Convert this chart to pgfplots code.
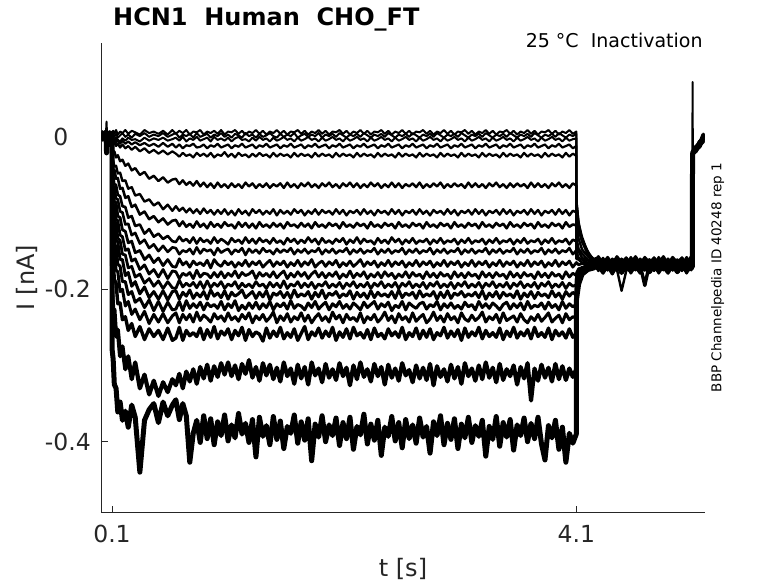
\documentclass[border=0pt]{standalone}
\usepackage{fontspec}
\setmainfont{DejaVu Sans}
\usepackage{pgfplots}
\usepackage{pgfplotstable}
\pgfplotsset{compat=1.18}
\definecolor{axgray}{RGB}{38,38,38}
\pgfplotstableread{
t a b c d e f g h i j k l m n o p q r s
8 3 1 -2 5 0 2 -1 4 1 -3 6 0 2 -2 3 1 -1 4 2
18 -1 4 2 -3 6 1 3 -2 5 2 0 7 -1 3 1 -2 5 0 -3
28 5 -2 3 1 -1 6 0 3 -2 4 2 -1 5 1 -3 6 2 -1 4
38 0 3 -1 7 2 -2 4 1 -3 5 0 3 -2 6 2 -1 3 5 0
48 4 -1 5 0 3 1 -3 6 2 -1 4 0 7 -2 3 1 -1 2 6
53 20 2 -1 4 1 5 0 3 -2 6 1 -1 3 0 5 -2 4 1 -21
58 -2 5 1 -1 4 0 6 -3 3 1 -2 5 0 4 -1 7 0 3 2
68 6 0 3 2 -2 4 1 -1 5 -3 3 2 -1 6 0 2 -2 5 -1
78 1 4 -2 5 0 3 -1 7 0 2 5 -3 4 1 -2 3 6 0 3
88 -3 2 6 0 4 -1 3 1 -2 5 0 4 2 -1 6 -2 3 1 5
98 4 -1 2 3 -2 6 0 4 1 -1 3 5 -2 2 0 4 1 -3 2
100 2 3 0 1 2 1 3 0 2 1 2 0 1 3 2 0 1 2 1
101 5 1 -4 -5 -8 -18 -30 -38 -49 -56 -66 -76 -86 -96 -111 -127 -152 -202 -279
110 8 3 -2 -7 -10 -22 -31 -45 -51 -65 -70 -88 -92 -111 -119 -145 -161 -226 -292
120 4 0 -5 -3 -7 -19 -39 -43 -62 -66 -85 -89 -109 -113 -139 -148 -187 -226 -325
135 9 4 -1 -8 -12 -27 -38 -55 -63 -81 -86 -108 -113 -136 -145 -175 -192 -262 -330
150 3 -1 -4 -4 -9 -24 -48 -54 -76 -82 -104 -110 -133 -138 -167 -177 -219 -253 -361
170 7 2 -6 -9 -14 -32 -47 -68 -78 -98 -106 -129 -136 -161 -170 -203 -218 -288 -348
190 5 5 -2 -5 -10 -30 -58 -67 -91 -99 -122 -131 -154 -161 -190 -200 -240 -275 -372
215 9 0 -5 -9 -15 -38 -57 -80 -92 -115 -124 -149 -155 -182 -190 -222 -236 -305 -360
240 4 3 -1 -6 -12 -35 -68 -78 -106 -114 -139 -147 -172 -178 -207 -216 -254 -288 -381
270 8 -1 -4 -10 -17 -44 -66 -92 -104 -129 -137 -163 -170 -196 -203 -233 -245 -318 -352
300 6 4 -3 -7 -13 -41 -77 -89 -117 -126 -152 -160 -184 -190 -217 -226 -262 -296 -368
340 3 1 -6 -11 -19 -50 -75 -102 -115 -140 -149 -174 -180 -206 -212 -240 -249 -330 -440
380 9 5 -1 -8 -15 -46 -85 -98 -127 -135 -161 -168 -192 -197 -224 -229 -266 -312 -372
420 5 0 -5 -12 -21 -55 -82 -108 -121 -146 -155 -180 -186 -211 -214 -245 -252 -338 -358
460 7 3 -2 -9 -17 -51 -90 -104 -131 -141 -165 -174 -196 -203 -228 -233 -262 -320 -350
500 4 1 -4 -13 -22 -58 -86 -112 -127 -150 -159 -184 -189 -213 -216 -243 -254 -340 -375
540 8 5 -1 -8 -18 -53 -95 -107 -134 -143 -169 -174 -199 -202 -229 -232 -266 -322 -348
580 3 0 -5 -13 -23 -60 -89 -115 -130 -151 -161 -186 -190 -214 -217 -244 -251 -335 -366
620 9 3 -3 -9 -19 -56 -97 -110 -137 -145 -170 -176 -198 -203 -227 -235 -267 -318 -352
650 4 5 -1 -14 -22 -55 -91 -109 -138 -146 -171 -177 -199 -202 -226 -231 -264 -326 -345
680 8 -1 -5 -10 -26 -62 -97 -117 -131 -154 -160 -186 -188 -213 -216 -244 -250 -311 -371
710 5 3 0 -15 -21 -57 -93 -111 -137 -149 -168 -179 -197 -204 -228 -233 -267 -330 -350
740 9 1 -6 -11 -25 -63 -99 -118 -134 -151 -164 -182 -192 -209 -215 -240 -254 -308 -366
770 3 4 -2 -12 -23 -59 -94 -114 -139 -147 -171 -178 -196 -201 -225 -233 -261 -321 -427
800 7 -1 -4 -9 -27 -64 -100 -119 -132 -154 -163 -186 -191 -212 -219 -243 -257 -305 -389
830 6 5 0 -14 -21 -58 -95 -111 -140 -145 -168 -175 -198 -205 -224 -230 -262 -324 -372
860 9 0 -5 -13 -25 -65 -101 -118 -133 -153 -165 -184 -190 -210 -217 -241 -251 -302 -401
890 3 2 -3 -10 -22 -60 -94 -114 -138 -147 -169 -179 -199 -203 -227 -234 -266 -317 -366
920 7 4 -1 -15 -26 -66 -100 -120 -135 -150 -162 -180 -189 -213 -218 -238 -253 -299 -396
950 5 -1 -6 -11 -21 -61 -96 -112 -140 -148 -172 -185 -198 -201 -223 -243 -263 -320 -370
980 8 3 0 -13 -27 -67 -102 -118 -132 -155 -161 -178 -192 -209 -220 -232 -249 -301 -404
1010 4 1 -4 -9 -23 -60 -96 -114 -139 -146 -167 -184 -196 -205 -225 -239 -265 -315 -374
1040 9 5 -2 -14 -25 -66 -101 -119 -134 -152 -170 -177 -190 -211 -216 -235 -255 -297 -392
1070 3 0 -5 -12 -20 -62 -95 -112 -137 -149 -163 -185 -199 -202 -227 -242 -260 -312 -365
1100 7 3 -1 -10 -26 -67 -102 -117 -141 -147 -168 -179 -193 -213 -219 -231 -252 -296 -399
1130 6 -1 -6 -15 -22 -61 -97 -115 -133 -154 -164 -183 -196 -204 -224 -240 -266 -314 -378
1160 9 4 -2 -11 -27 -66 -103 -120 -138 -148 -171 -176 -190 -209 -215 -236 -254 -300 -395
1190 4 2 0 -13 -21 -62 -95 -112 -135 -151 -165 -185 -199 -206 -228 -242 -261 -318 -363
1220 8 -1 -4 -9 -25 -67 -101 -118 -140 -146 -169 -178 -192 -201 -221 -233 -250 -298 -390
1250 3 5 -3 -14 -23 -60 -97 -113 -132 -155 -162 -182 -197 -211 -226 -239 -267 -311 -376
1280 7 1 -6 -12 -27 -65 -103 -119 -139 -147 -170 -180 -193 -207 -218 -231 -253 -293 -401
1310 5 3 -1 -10 -22 -61 -95 -114 -134 -152 -164 -176 -198 -203 -225 -244 -262 -316 -371
1340 9 -1 -5 -15 -26 -67 -100 -120 -140 -148 -168 -186 -190 -212 -217 -235 -256 -302 -420
1370 4 4 0 -11 -21 -62 -96 -112 -133 -153 -163 -178 -196 -204 -226 -240 -259 -320 -368
1400 8 0 -4 -13 -25 -66 -102 -118 -138 -146 -171 -183 -193 -210 -219 -233 -268 -297 -393
1430 3 2 -2 -9 -23 -61 -97 -115 -135 -151 -166 -179 -199 -202 -224 -242 -251 -313 -379
1460 7 5 -6 -14 -27 -67 -101 -119 -140 -149 -162 -184 -191 -214 -216 -237 -264 -299 -404
1490 5 1 -1 -12 -21 -62 -95 -113 -133 -154 -170 -177 -197 -205 -227 -230 -255 -318 -367
1520 9 -1 -5 -10 -26 -65 -103 -118 -139 -147 -164 -185 -192 -208 -219 -244 -262 -303 -397
1550 4 4 -3 -15 -22 -61 -96 -114 -136 -152 -168 -180 -198 -203 -223 -235 -250 -321 -373
1580 8 0 0 -11 -25 -67 -101 -120 -141 -148 -163 -176 -189 -211 -218 -241 -265 -296 -409
1610 3 3 -4 -13 -23 -60 -97 -112 -133 -151 -171 -186 -199 -204 -226 -232 -257 -314 -380
1640 7 1 -2 -9 -27 -66 -102 -117 -138 -146 -165 -179 -193 -212 -215 -243 -263 -304 -389
1670 6 5 -6 -14 -21 -62 -95 -115 -134 -154 -169 -184 -196 -201 -225 -236 -252 -324 -365
1700 9 -1 -1 -12 -26 -67 -100 -119 -140 -148 -162 -177 -190 -210 -220 -240 -267 -299 -402
1730 4 2 -5 -10 -22 -61 -96 -113 -135 -152 -170 -183 -198 -206 -222 -231 -258 -317 -374
1760 8 4 -3 -15 -25 -65 -103 -118 -139 -147 -164 -178 -192 -209 -227 -242 -249 -302 -398
1790 3 0 0 -11 -23 -60 -97 -114 -132 -153 -168 -186 -197 -203 -218 -234 -266 -325 -370
1820 7 3 -4 -13 -27 -66 -101 -120 -138 -149 -161 -180 -191 -213 -224 -244 -256 -296 -425
1850 5 1 -2 -9 -21 -62 -95 -112 -134 -151 -171 -176 -199 -204 -216 -237 -261 -313 -377
1880 9 5 -6 -14 -26 -67 -102 -118 -141 -146 -166 -184 -193 -210 -226 -232 -251 -304 -394
1910 4 -1 -1 -12 -22 -61 -96 -115 -133 -154 -163 -178 -196 -201 -221 -241 -264 -322 -366
1940 8 3 -5 -10 -25 -65 -100 -119 -139 -148 -170 -185 -190 -212 -217 -236 -255 -298 -400
1970 3 1 -3 -15 -23 -60 -97 -113 -136 -152 -164 -179 -198 -205 -227 -243 -262 -316 -378
2000 7 4 0 -11 -27 -66 -102 -117 -140 -147 -168 -183 -193 -208 -219 -230 -250 -305 -392
2030 6 0 -4 -13 -21 -62 -95 -114 -134 -153 -162 -177 -197 -203 -223 -239 -267 -319 -369
2060 9 5 -2 -9 -26 -67 -101 -120 -138 -149 -171 -186 -191 -211 -216 -234 -256 -297 -405
2090 4 2 -6 -14 -22 -61 -96 -112 -133 -151 -165 -180 -199 -206 -225 -244 -263 -314 -375
2120 8 -1 -1 -12 -25 -65 -103 -118 -141 -146 -169 -184 -192 -209 -220 -233 -252 -303 -396
2150 3 3 -5 -10 -23 -60 -97 -115 -135 -154 -163 -176 -196 -202 -226 -240 -265 -326 -368
2180 7 1 -3 -15 -27 -66 -100 -119 -139 -148 -170 -185 -190 -213 -218 -237 -250 -300 -410
2210 5 4 0 -11 -21 -61 -96 -113 -132 -152 -166 -179 -198 -204 -222 -242 -261 -318 -380
2240 9 0 -4 -13 -26 -67 -102 -117 -140 -147 -161 -183 -193 -210 -227 -231 -257 -296 -391
2270 4 5 -2 -9 -22 -62 -95 -114 -134 -153 -170 -177 -197 -205 -217 -244 -264 -315 -364
2300 8 2 -6 -14 -25 -66 -101 -120 -138 -149 -164 -186 -191 -212 -224 -236 -253 -305 -403
2330 3 -1 -1 -12 -23 -60 -97 -112 -136 -151 -168 -180 -199 -202 -220 -240 -266 -321 -377
2360 7 3 -5 -10 -27 -65 -103 -118 -141 -146 -163 -184 -192 -211 -216 -233 -251 -298 -398
2390 6 1 -3 -15 -21 -61 -96 -115 -133 -154 -171 -178 -196 -204 -226 -243 -262 -314 -372
2420 9 4 0 -11 -26 -67 -100 -119 -139 -148 -165 -185 -190 -209 -219 -238 -258 -302 -418
2450 4 0 -4 -13 -22 -62 -97 -113 -135 -152 -169 -177 -198 -206 -223 -230 -265 -325 -381
2480 8 5 -2 -9 -25 -66 -102 -117 -140 -147 -162 -183 -193 -210 -217 -241 -252 -299 -393
2510 3 2 -6 -14 -23 -60 -95 -114 -132 -153 -170 -179 -197 -203 -228 -235 -261 -316 -367
2540 7 -1 -1 -12 -27 -66 -101 -120 -138 -149 -164 -186 -191 -212 -221 -244 -256 -304 -399
2570 5 3 -5 -10 -21 -61 -96 -112 -134 -151 -168 -180 -199 -201 -224 -232 -263 -320 -375
2600 9 1 -3 -15 -26 -67 -103 -118 -141 -146 -163 -184 -192 -211 -216 -240 -250 -297 -408
2630 4 4 0 -11 -22 -62 -97 -115 -135 -154 -171 -177 -196 -205 -227 -236 -266 -313 -371
2660 8 0 -4 -13 -25 -65 -100 -119 -139 -148 -165 -185 -190 -208 -218 -243 -257 -306 -396
2690 3 5 -2 -9 -23 -61 -96 -113 -133 -152 -169 -178 -198 -204 -222 -231 -262 -322 -378
2720 7 2 -6 -14 -27 -66 -102 -117 -140 -147 -162 -183 -193 -212 -225 -242 -251 -300 -402
2750 6 -1 -1 -12 -21 -60 -95 -114 -136 -153 -170 -180 -197 -202 -219 -237 -265 -317 -369
2780 9 3 -5 -10 -26 -67 -101 -120 -138 -149 -164 -186 -191 -210 -217 -233 -254 -303 -394
2810 4 1 -3 -15 -22 -62 -97 -112 -134 -151 -168 -177 -199 -206 -226 -244 -263 -319 -380
2840 8 4 0 -11 -25 -66 -103 -118 -141 -146 -163 -184 -192 -209 -220 -239 -252 -298 -415
2870 3 0 -4 -13 -23 -61 -96 -115 -135 -154 -171 -179 -196 -203 -223 -230 -266 -326 -374
2900 7 5 -2 -9 -27 -65 -100 -119 -139 -148 -165 -185 -190 -213 -216 -241 -257 -301 -392
2930 5 2 -6 -14 -21 -60 -97 -113 -133 -152 -169 -178 -198 -204 -227 -235 -261 -315 -366
2960 9 -1 -1 -12 -26 -67 -102 -117 -140 -147 -162 -183 -193 -211 -219 -243 -250 -305 -404
2990 4 3 -5 -10 -22 -62 -95 -114 -136 -153 -170 -180 -197 -202 -224 -232 -264 -321 -376
3020 8 1 -3 -15 -25 -66 -101 -120 -138 -149 -164 -186 -191 -212 -218 -240 -255 -299 -397
3050 3 4 0 -11 -23 -61 -96 -112 -134 -151 -168 -177 -199 -205 -225 -236 -262 -317 -370
3080 7 0 -4 -13 -27 -65 -103 -118 -141 -146 -163 -184 -192 -208 -221 -244 -253 -302 -409
3110 6 5 -2 -9 -21 -62 -97 -115 -135 -154 -171 -179 -196 -203 -226 -231 -267 -324 -377
3140 9 2 -6 -14 -26 -67 -100 -119 -139 -148 -165 -185 -190 -210 -217 -239 -251 -297 -395
3170 4 -1 -1 -12 -22 -60 -96 -113 -133 -152 -169 -178 -198 -206 -223 -242 -263 -314 -368
3200 8 3 -5 -10 -25 -66 -102 -117 -140 -147 -162 -183 -193 -209 -220 -234 -256 -304 -401
3230 3 1 -3 -15 -23 -61 -95 -114 -136 -153 -170 -180 -197 -204 -227 -241 -261 -320 -379
3260 7 4 0 -11 -27 -66 -101 -120 -138 -149 -164 -186 -191 -211 -216 -237 -250 -300 -393
3290 5 0 -4 -13 -21 -62 -96 -112 -134 -151 -168 -177 -199 -202 -224 -230 -265 -318 -372
3320 9 5 -2 -9 -26 -67 -103 -118 -141 -146 -163 -184 -192 -213 -219 -243 -254 -296 -419
3350 4 2 -6 -14 -22 -61 -97 -115 -135 -154 -171 -179 -196 -205 -225 -236 -262 -316 -380
3380 8 -1 -1 -12 -25 -65 -100 -119 -139 -148 -165 -185 -190 -210 -218 -240 -257 -303 -397
3410 3 3 -5 -10 -23 -60 -96 -113 -133 -152 -169 -178 -198 -203 -222 -233 -263 -322 -367
3440 7 1 -3 -15 -27 -66 -102 -117 -140 -147 -162 -183 -193 -212 -227 -244 -251 -298 -406
3470 6 4 0 -11 -21 -62 -95 -114 -136 -153 -170 -180 -197 -204 -220 -231 -266 -319 -375
3500 9 0 -4 -13 -26 -67 -101 -120 -138 -149 -164 -186 -191 -209 -217 -241 -255 -305 -394
3530 4 5 -2 -9 -22 -61 -96 -112 -134 -151 -168 -177 -199 -206 -226 -238 -262 -314 -371
3560 8 2 -6 -14 -25 -66 -103 -118 -141 -146 -163 -184 -192 -211 -219 -235 -250 -300 -411
3590 3 -1 -1 -12 -23 -61 -97 -115 -135 -154 -171 -179 -196 -202 -224 -243 -264 -325 -378
3620 7 3 -5 -10 -27 -65 -100 -119 -139 -148 -165 -185 -190 -213 -218 -232 -256 -302 -392
3650 5 1 -3 -15 -21 -62 -96 -113 -133 -152 -169 -178 -198 -205 -227 -240 -261 -317 -369
3680 9 4 0 -11 -26 -67 -102 -117 -140 -147 -162 -183 -193 -210 -216 -244 -253 -297 -400
3710 4 0 -4 -13 -22 -60 -95 -114 -136 -153 -170 -180 -197 -203 -225 -236 -265 -346 -376
3740 8 5 -2 -9 -25 -66 -101 -120 -138 -149 -164 -186 -191 -212 -221 -241 -250 -304 -396
3770 3 2 -6 -14 -23 -61 -96 -112 -134 -151 -168 -177 -199 -204 -223 -233 -262 -320 -368
3800 7 -1 -1 -12 -27 -66 -103 -118 -141 -146 -163 -184 -192 -209 -218 -242 -257 -299 -403
3830 6 3 -5 -10 -21 -62 -97 -115 -135 -154 -171 -179 -196 -206 -226 -237 -263 -316 -424
3860 9 1 -3 -15 -26 -67 -100 -119 -139 -148 -165 -185 -190 -211 -217 -231 -251 -303 -379
3890 4 4 0 -11 -22 -61 -96 -113 -133 -152 -169 -178 -198 -202 -224 -243 -266 -321 -395
3920 8 0 -4 -13 -25 -65 -102 -117 -140 -147 -162 -183 -193 -210 -220 -238 -254 -298 -372
3950 3 5 -2 -9 -23 -60 -95 -114 -136 -153 -170 -180 -197 -205 -227 -234 -261 -318 -410
3980 7 2 -6 -14 -27 -66 -101 -120 -138 -149 -164 -186 -191 -213 -216 -244 -256 -301 -381
4010 5 -1 -1 -12 -21 -62 -96 -112 -134 -151 -168 -177 -199 -203 -225 -232 -264 -319 -427
4040 9 3 -5 -10 -26 -67 -103 -118 -141 -146 -163 -184 -192 -209 -219 -240 -252 -304 -389
4070 4 1 -3 -15 -22 -61 -97 -115 -135 -154 -171 -179 -196 -204 -223 -236 -263 -315 -402
4100 7 4 -2 -12 -25 -64 -99 -116 -137 -149 -165 -182 -194 -208 -220 -238 -258 -305 -390
4101 -81 -83 -84 -91 -96 -117 -133 -143 -151 -160 -165 -179 -181 -187 -189 -195 -197 -206 -214
4120 -113 -111 -116 -117 -123 -134 -147 -150 -159 -161 -168 -173 -177 -177 -181 -181 -185 -187 -193
4150 -131 -135 -134 -138 -138 -148 -153 -159 -161 -165 -166 -172 -171 -174 -173 -176 -175 -179 -180
4200 -152 -150 -152 -151 -155 -157 -162 -162 -166 -165 -169 -168 -171 -169 -171 -170 -172 -171 -174
4250 -161 -163 -160 -164 -161 -166 -163 -168 -165 -169 -166 -170 -167 -168 -171 -167 -170 -168 -172
4290 -162 -175 -158 -168 -171 -160 -176 -164 -169 -168 -161 -174 -157 -166 -172 -170 -160 -173 -166
4330 -170 -166 -167 -177 -163 -169 -166 -173 -159 -178 -170 -165 -166 -175 -162 -179 -169 -163 -176
4370 -161 -174 -159 -167 -172 -161 -175 -163 -168 -169 -162 -173 -158 -165 -171 -169 -161 -174 -165
4410 -171 -165 -166 -178 -162 -170 -167 -172 -160 -177 -171 -164 -167 -174 -163 -180 -168 -162 -177
4450 -160 -173 -160 -166 -171 -162 -174 -164 -167 -170 -161 -175 -157 -167 -170 -168 -162 -175 -164
4490 -169 -167 -165 -177 -164 -168 -202 -171 -161 -176 -169 -166 -165 -173 -164 -178 -167 -161 -178
4530 -162 -174 -158 -168 -170 -160 -176 -165 -169 -168 -162 -172 -159 -166 -172 -171 -160 -173 -166
4570 -171 -166 -168 -176 -163 -169 -167 -172 -158 -179 -170 -165 -166 -176 -161 -177 -169 -164 -175
4610 -161 -175 -160 -167 -172 -162 -175 -163 -168 -169 -161 -174 -157 -165 -171 -170 -161 -172 -166
4650 -170 -165 -166 -178 -162 -170 -166 -173 -160 -177 -171 -164 -167 -175 -163 -179 -168 -163 -176
4690 -160 -174 -159 -166 -171 -161 -174 -164 -167 -170 -162 -175 -158 -167 -170 -169 -195 -174 -165
4730 -169 -167 -167 -177 -164 -168 -167 -171 -161 -176 -169 -165 -165 -173 -164 -178 -167 -162 -177
4770 -162 -173 -158 -168 -170 -161 -176 -165 -169 -168 -162 -172 -159 -166 -172 -170 -160 -174 -166
4810 -171 -166 -168 -176 -163 -169 -166 -172 -158 -179 -170 -165 -166 -176 -161 -177 -169 -163 -175
4850 -161 -175 -160 -167 -172 -162 -175 -163 -168 -169 -161 -174 -157 -165 -171 -171 -161 -172 -166
4890 -170 -165 -166 -178 -162 -170 -167 -173 -160 -177 -171 -164 -167 -175 -163 -179 -168 -162 -176
4930 -160 -174 -159 -166 -171 -161 -174 -164 -167 -170 -162 -175 -158 -167 -170 -169 -162 -174 -165
4970 -169 -167 -167 -177 -164 -168 -167 -171 -161 -176 -169 -165 -165 -173 -164 -178 -167 -163 -177
5010 -162 -173 -158 -168 -170 -161 -176 -165 -169 -168 -162 -172 -159 -166 -172 -170 -160 -174 -166
5050 -171 -166 -168 -176 -163 -169 -166 -172 -158 -179 -170 -165 -166 -176 -161 -177 -169 -163 -175
5090 -161 -175 -160 -167 -172 -162 -175 -163 -168 -169 -161 -174 -157 -165 -171 -171 -161 -172 -166
5100 -168 -167 -165 -172 -166 -167 -170 -168 -164 -173 -166 -169 -163 -170 -167 -173 -165 -168 -170
5101 72 -24 -19 -26 -21 -23 -18 -25 -22 -20 -26 -21 -24 -19 -23 -25 -20 -22 -24
5104 -20 -22 -25 -19 -23 -20 -26 -21 -18 -24 -22 -25 -20 -23 -19 -21 -24 -22 -20
5130 -13 -18 -14 -19 -12 -17 -15 -20 -13 -16 -18 -14 -17 -12 -19 -15 -13 -18 -16
5160 -10 -6 -11 -7 -12 -8 -9 -13 -6 -10 -8 -12 -7 -11 -9 -6 -10 -8 -12
5200 2 -3 4 -5 1 -2 5 -4 0 3 -1 -6 2 -3 4 -2 1 -4 3
}\traces
\begin{document}
\begin{tikzpicture}
\useasboundingbox (-101.3pt,-70.7pt) rectangle (676.7pt,512.3pt);
\begin{axis}[
  scale only axis, width=603.4pt, height=469.6pt,
  at={(0pt,0pt)}, anchor=south west,
  xmin=7.8, xmax=5206, ymin=-492.7, ymax=123.6,
  axis lines=left,
  axis line style={-, draw=axgray, line width=0.8pt},
  tick align=inside, major tick length=6.7pt,
  tick style={draw=axgray, line width=0.8pt},
  xtick={100,4100}, xticklabels={0.1,4.1},
  ytick={-400,-200,0}, yticklabels={-0.4,-0.2,0\phantom{.2}},
  ticklabel style={font=\fontsize{23.5}{28}\selectfont, text=axgray},
  xticklabel style={anchor=north, inner sep=0pt, yshift=-12.7pt},
  yticklabel style={anchor=east, inner sep=0pt, xshift=-10.3pt},
]
\pgfplotsinvokeforeach{a,b,c}{
  \addplot[black, line width=2.0pt, line join=round] table[x=t, y=#1] {\traces};
}
\pgfplotsinvokeforeach{d,e}{
  \addplot[black, line width=2.2pt, line join=round] table[x=t, y=#1] {\traces};
}
\pgfplotsinvokeforeach{f,g}{
  \addplot[black, line width=2.4pt, line join=round] table[x=t, y=#1] {\traces};
}
\pgfplotsinvokeforeach{h,i,j}{
  \addplot[black, line width=2.6pt, line join=round] table[x=t, y=#1] {\traces};
}
\pgfplotsinvokeforeach{k,l,m}{
  \addplot[black, line width=2.8pt, line join=round] table[x=t, y=#1] {\traces};
}
\pgfplotsinvokeforeach{n,o,p}{
  \addplot[black, line width=3.0pt, line join=round] table[x=t, y=#1] {\traces};
}
\addplot[black, line width=3.4pt, line join=round] table[x=t, y=q] {\traces};
\addplot[black, line width=4.2pt, line join=round] table[x=t, y=r] {\traces};
\addplot[black, line width=5.0pt, line join=round] table[x=t, y=s] {\traces};
\end{axis}
\node[anchor=base west, inner sep=0pt, font=\fontsize{24}{28}\selectfont\bfseries] at (11.7pt,486.3pt) {HCN1\ \ Human\ \ CHO\_FT};
\node[anchor=base east, inner sep=0pt, font=\fontsize{19}{23}\selectfont] at (601.5pt,464.6pt) {25 °C\ \ Inactivation};
\node[rotate=90, anchor=base, inner sep=0pt, font=\fontsize{13.5}{16}\selectfont] at (620pt,234.8pt) {BBP Channelpedia ID 40248 rep 1};
\node[rotate=90, anchor=base, inner sep=0pt, font=\fontsize{24}{28}\selectfont, text=axgray] at (-66.8pt,234.8pt) {I [nA]};
\node[anchor=base, inner sep=0pt, font=\fontsize{24}{28}\selectfont, text=axgray] at (301.7pt,-63.7pt) {t [s]};
\end{tikzpicture}
\end{document}
